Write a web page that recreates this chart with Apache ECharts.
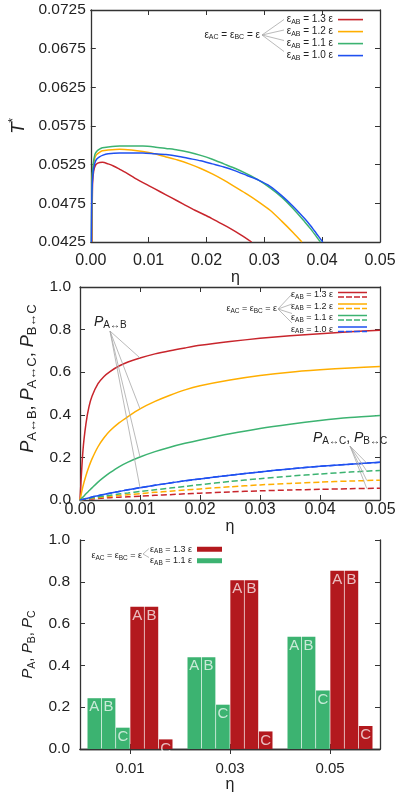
<!DOCTYPE html>
<html><head><meta charset="utf-8">
<script src="https://cdn.jsdelivr.net/npm/echarts@6/dist/echarts.min.js"></script>
<style>html,body{margin:0;padding:0;background:#fff}#c{width:400px;height:794px}</style>
</head><body><div id="c"></div>
<script>
// ---------------- DATA ----------------
// Panel 1: reduced critical temperature T* vs packing fraction eta
const T_TICKS = [0.0425, 0.0475, 0.0525, 0.0575, 0.0625, 0.0675, 0.0725];
const ETA_TICKS = [0, 0.01, 0.02, 0.03, 0.04, 0.05];
const T13_ETA = [0.0002, 0.0003, 0.0005, 0.0008, 0.0012, 0.002, 0.003, 0.004, 0.005, 0.006, 0.008, 0.010, 0.012, 0.014, 0.016, 0.018, 0.020, 0.022, 0.024, 0.026, 0.0278];
const T13_VAL = [0.0425, 0.0500, 0.0517, 0.0524, 0.0527, 0.0528, 0.0526, 0.0523, 0.0519, 0.0515, 0.0506, 0.0498, 0.0490, 0.0482, 0.0474, 0.0466, 0.0459, 0.0451, 0.0443, 0.0434, 0.0425];
const T12_ETA = [0.00015, 0.00025, 0.0004, 0.0007, 0.001, 0.0015, 0.002, 0.003, 0.005, 0.007, 0.009, 0.011, 0.013, 0.015, 0.017, 0.019, 0.021, 0.023, 0.025, 0.027, 0.029, 0.031, 0.033, 0.035, 0.0365];
const T12_VAL = [0.0425, 0.0505, 0.0522, 0.0534, 0.0538, 0.0541, 0.0543, 0.0544, 0.0545, 0.0544, 0.0542, 0.0539, 0.0535, 0.0531, 0.0526, 0.0520, 0.0513, 0.0505, 0.0496, 0.0487, 0.0477, 0.0466, 0.0452, 0.0437, 0.0425];
const T11_ETA = [0.0001, 0.0002, 0.0004, 0.0007, 0.001, 0.0015, 0.002, 0.003, 0.005, 0.007, 0.009, 0.011, 0.013, 0.015, 0.017, 0.019, 0.021, 0.023, 0.025, 0.027, 0.029, 0.031, 0.033, 0.035, 0.037, 0.038, 0.039, 0.0397];
const T11_VAL = [0.0425, 0.0500, 0.0525, 0.0538, 0.0542, 0.0545, 0.0547, 0.0548, 0.0549, 0.0549, 0.0549, 0.0548, 0.0546, 0.0544, 0.0541, 0.0537, 0.0532, 0.0526, 0.0520, 0.0513, 0.0505, 0.0495, 0.0483, 0.0468, 0.0451, 0.0442, 0.0432, 0.0425];
const T10_ETA = [0.0001, 0.0002, 0.0004, 0.0007, 0.001, 0.0015, 0.002, 0.003, 0.005, 0.007, 0.009, 0.011, 0.013, 0.015, 0.017, 0.019, 0.021, 0.023, 0.025, 0.027, 0.029, 0.031, 0.033, 0.035, 0.037, 0.038, 0.039, 0.0401];
const T10_VAL = [0.0425, 0.0490, 0.0515, 0.0527, 0.0532, 0.0535, 0.0537, 0.0539, 0.0540, 0.0540, 0.0540, 0.0539, 0.0538, 0.0536, 0.0533, 0.0530, 0.0526, 0.0522, 0.0517, 0.0511, 0.0505, 0.0497, 0.0485, 0.0471, 0.0455, 0.0446, 0.0436, 0.0425];

// Panel 2: bonding probabilities vs eta
const P_ETA = [0, 0.0005, 0.001, 0.0015, 0.002, 0.003, 0.004, 0.005, 0.0065, 0.008, 0.01, 0.0125, 0.015, 0.0175, 0.02, 0.025, 0.03, 0.035, 0.04, 0.045, 0.05];
const P_TICKS = [0, 0.2, 0.4, 0.6, 0.8, 1.0];
const PAB_13 = [0, 0.235, 0.36, 0.438, 0.487, 0.546, 0.580, 0.603, 0.629, 0.648, 0.667, 0.686, 0.701, 0.714, 0.726, 0.744, 0.759, 0.771, 0.781, 0.790, 0.797];
const PAB_12 = [0, 0.065, 0.115, 0.157, 0.193, 0.250, 0.292, 0.325, 0.362, 0.392, 0.428, 0.463, 0.492, 0.517, 0.536, 0.563, 0.584, 0.600, 0.611, 0.620, 0.627];
const PAB_11 = [0, 0.014, 0.029, 0.043, 0.057, 0.084, 0.107, 0.128, 0.156, 0.178, 0.202, 0.227, 0.248, 0.266, 0.282, 0.311, 0.336, 0.356, 0.373, 0.387, 0.397];
const PAB_10 = [0, 0.003, 0.007, 0.010, 0.014, 0.020, 0.026, 0.032, 0.040, 0.048, 0.058, 0.069, 0.080, 0.090, 0.099, 0.116, 0.132, 0.146, 0.158, 0.168, 0.177];
const PAC_13 = [0, 0.001, 0.003, 0.004, 0.005, 0.007, 0.009, 0.011, 0.013, 0.015, 0.018, 0.022, 0.025, 0.029, 0.032, 0.038, 0.043, 0.047, 0.050, 0.053, 0.055];
const PAC_12 = [0, 0.002, 0.004, 0.006, 0.008, 0.011, 0.014, 0.017, 0.021, 0.025, 0.030, 0.036, 0.041, 0.047, 0.052, 0.062, 0.071, 0.078, 0.084, 0.089, 0.093];
const PAC_11 = [0, 0.0025, 0.005, 0.0075, 0.010, 0.014, 0.018, 0.022, 0.028, 0.033, 0.040, 0.048, 0.056, 0.064, 0.072, 0.087, 0.100, 0.112, 0.122, 0.131, 0.139];
const PAC_10 = [0, 0.003, 0.007, 0.010, 0.014, 0.020, 0.026, 0.032, 0.040, 0.048, 0.058, 0.069, 0.080, 0.090, 0.099, 0.116, 0.132, 0.146, 0.158, 0.168, 0.177];

// Panel 3: site probabilities
const BAR_CATS = ['0.01', '0.03', '0.05'];
const B11_A = [0.243, 0.439, 0.537];
const B11_B = [0.243, 0.439, 0.537];
const B11_C = [0.102, 0.212, 0.280];
const B13_A = [0.681, 0.808, 0.853];
const B13_B = [0.681, 0.808, 0.853];
const B13_C = [0.046, 0.084, 0.110];

const EPS_LABELS = ['1.3', '1.2', '1.1', '1.0'];

// ---------------- STYLE ----------------
const FONT = '"Liberation Sans", Arial, Helvetica, sans-serif';
const C_RED = '#c8252c', C_ORA = '#ffae00', C_GRN = '#3cb371', C_BLU = '#1f50f0';
const C_BAR_RED = '#b3191e', C_BAR_GRN = '#3cb371';
const AX = '#333';
const GREY = '#a8a8a8';

const zip = (a, b) => a.map((v, i) => [v, b[i]]);

function valAxis(grid, pos, o) {
  const mirror = (pos === 'top' || pos === 'right');
  return Object.assign({
    type: 'value', gridIndex: grid, position: pos,
    axisLine: { show: true, onZero: false, lineStyle: { color: AX, width: 1.3 } },
    axisTick: { show: true, inside: true, length: 5, lineStyle: { color: AX, width: 1 } },
    axisLabel: { show: !mirror, color: '#222', fontFamily: FONT, fontSize: 15.5 },
    splitLine: { show: false }
  }, o);
}

const legendRich = (fs, sfs, lh, pad) => ({
  e: { fontSize: fs, fontFamily: FONT, color: '#222', lineHeight: lh },
  s: { fontSize: sfs, fontFamily: FONT, color: '#222', lineHeight: lh, padding: [pad, 0, 0, 0] }
});
const epsLabel = (lab) => '{e|ε}{s|AB}{e| = ' + lab + ' ε}';

const lineSeries = (name, x, y, g, color, dashed) => ({
  type: 'line', name, xAxisIndex: g * 2, yAxisIndex: g * 2,
  data: zip(x, y), showSymbol: false, symbol: 'none',
  smooth: 0.25, clip: true,
  lineStyle: { color, width: 1.5, type: dashed ? [6, 3] : 'solid' },
  itemStyle: { color }, animation: false, z: 3
});

const idx01 = P_ETA.indexOf(0.01);
const i45 = P_ETA.indexOf(0.045), i50 = P_ETA.indexOf(0.05);
const etaEnd = 0.0478;
const interpEnd = (arr) => arr[i45] + (arr[i50] - arr[i45]) * (etaEnd - 0.045) / 0.005;
const ORIG_AB = [0.005, 0.793];
const ORIG_AC = [0.045, 0.2535];
const leader = (from, to) => [{ coord: from }, { coord: to }];

const mlStyle = { symbol: ['none', 'none'], silent: true, animation: false,
  label: { show: false }, lineStyle: { color: GREY, width: 0.8, type: 'solid' }, emphasis: { disabled: true } };

const barLabel = (txt) => ({ show: true, position: 'insideTop', distance: 1.5, formatter: txt,
  color: 'rgba(255,255,255,0.72)', fontFamily: FONT, fontSize: 15 });
const barSeries = (name, data, color, txt) => ({
  type: 'bar', name, xAxisIndex: 4, yAxisIndex: 4, data,
  itemStyle: { color }, barCategoryGap: '15%', barGap: '5%',
  label: barLabel(txt), animation: false
});

const subRich = (pf, sf, pad) => ({
  p: { fontSize: pf, fontStyle: 'italic', fontFamily: FONT, color: '#222' },
  s: { fontSize: sf, fontFamily: FONT, color: '#222', padding: [pad, 0, 0, 0] },
  c: { fontSize: pf, fontFamily: FONT, color: '#222' }
});

const option = {
  backgroundColor: '#fff',
  animation: false,
  grid: [
    { left: 80, top: 10, width: 300, height: 232 },
    { left: 80, top: 287, width: 300, height: 213 },
    { left: 80, top: 540, width: 300, height: 209 }
  ],
  xAxis: [
    valAxis(0, 'bottom', { min: 0, max: 0.05, interval: 0.01,
      axisLabel: { color: '#222', fontFamily: FONT, fontSize: 16, margin: 11, formatter: v => v.toFixed(2) },
      name: 'η', nameLocation: 'middle', nameGap: 20, nameTextStyle: { fontSize: 16, fontFamily: FONT, color: '#222' } }),
    valAxis(0, 'top', { min: 0, max: 0.05, interval: 0.01 }),
    valAxis(1, 'bottom', { min: 0, max: 0.05, interval: 0.01,
      axisLabel: { color: '#222', fontFamily: FONT, fontSize: 16, margin: 2, formatter: v => v.toFixed(2) },
      name: 'η', nameLocation: 'middle', nameGap: 18, nameTextStyle: { fontSize: 16, fontFamily: FONT, color: '#222' } }),
    valAxis(1, 'top', { min: 0, max: 0.05, interval: 0.01 }),
    { type: 'category', gridIndex: 2, position: 'bottom', data: BAR_CATS,
      axisLine: { show: true, lineStyle: { color: AX, width: 1.3 } },
      axisTick: { show: true, inside: true, alignWithLabel: true, length: 5, lineStyle: { color: AX } },
      axisLabel: { color: '#222', fontFamily: FONT, fontSize: 15, margin: 12 },
      name: 'η', nameLocation: 'middle', nameGap: 22, nameTextStyle: { fontSize: 16, fontFamily: FONT, color: '#222' } },
    { type: 'category', gridIndex: 2, position: 'top', data: BAR_CATS,
      axisLine: { show: true, lineStyle: { color: AX, width: 1.3 } },
      axisTick: { show: true, inside: true, alignWithLabel: true, length: 5, lineStyle: { color: AX } },
      axisLabel: { show: false } }
  ],
  yAxis: [
    valAxis(0, 'left', { min: 0.0425, max: 0.0725,
      axisLabel: { color: '#222', fontFamily: FONT, fontSize: 15.5, margin: 5, customValues: T_TICKS, formatter: v => v.toFixed(4) },
      axisTick: { show: true, inside: true, length: 5, customValues: T_TICKS, lineStyle: { color: AX } },
      name: '{t|T}{sup|*}', nameLocation: 'middle', nameGap: 57,
      nameTextStyle: { rich: { t: { fontSize: 18, fontStyle: 'italic', fontFamily: FONT, color: '#222' },
        sup: { fontSize: 12, fontFamily: FONT, color: '#222', padding: [0, 0, 9, 0] } } } }),
    valAxis(0, 'right', { min: 0.0425, max: 0.0725,
      axisTick: { show: true, inside: true, length: 5, customValues: T_TICKS, lineStyle: { color: AX } } }),
    valAxis(1, 'left', { min: 0, max: 1, interval: 0.2,
      axisLabel: { color: '#222', fontFamily: FONT, fontSize: 15.5, margin: 9, formatter: v => v.toFixed(1) },
      name: '{p|P}{s|A↔B}{c|, }{p|P}{s|A↔C}{c|, }{p|P}{s|B↔C}', nameLocation: 'middle', nameGap: 38,
      nameTextStyle: { padding: [0, 0, 0, 30], rich: subRich(18, 13, 9) } }),
    valAxis(1, 'right', { min: 0, max: 1, interval: 0.2 }),
    valAxis(2, 'left', { min: 0, max: 1, interval: 0.2,
      axisLabel: { color: '#222', fontFamily: FONT, fontSize: 15.5, margin: 10, formatter: v => v.toFixed(1) },
      name: '{p|P}{s|A}{c|, }{p|P}{s|B}{c|, }{p|P}{s|C}', nameLocation: 'middle', nameGap: 40,
      nameTextStyle: { rich: subRich(15, 10.5, 8) } }),
    valAxis(2, 'right', { min: 0, max: 1, interval: 0.2 })
  ],
  legend: [
    { orient: 'vertical', right: 37, top: 13.6, padding: 0, itemGap: 0, itemWidth: 25, itemHeight: 10,
      align: 'right', icon: 'path://M0,0h25v1.6h-25z', itemStyle: { borderWidth: 0 },
      data: ['T13', 'T12', 'T11', 'T10'], selectedMode: false,
      formatter: n => epsLabel(EPS_LABELS[['T13', 'T12', 'T11', 'T10'].indexOf(n)]),
      textStyle: { rich: legendRich(10, 7, 10.7, 5) } },
    { orient: 'vertical', right: 33, top: 289, padding: 0, itemGap: 0, itemWidth: 29, itemHeight: 9,
      align: 'right', icon: 'path://M0,0h29v1.5h-29z M0,4.5h6v1.5h-6z M8,4.5h6v1.5h-6z M16,4.5h6v1.5h-6z M24,4.5h5v1.5h-5z',
      itemStyle: { borderWidth: 0 },
      data: ['P13', 'P12', 'P11', 'P10'], selectedMode: false,
      formatter: n => epsLabel(EPS_LABELS[['P13', 'P12', 'P11', 'P10'].indexOf(n)]),
      textStyle: { rich: legendRich(9, 6.5, 9.7, 4.5) } },
    { orient: 'vertical', right: 178, top: 543.5, padding: 0, itemGap: 0, itemWidth: 25, itemHeight: 9,
      align: 'right', icon: 'path://M0,0h25v5h-25z', itemStyle: { borderWidth: 0 },
      data: ['B13', 'B11'], selectedMode: false,
      formatter: n => epsLabel(n === 'B13' ? '1.3' : '1.1'),
      textStyle: { rich: legendRich(9, 6.5, 9, 4.5) } }
  ],
  series: [
    lineSeries('T13', T13_ETA, T13_VAL, 0, C_RED),
    lineSeries('T12', T12_ETA, T12_VAL, 0, C_ORA),
    lineSeries('T11', T11_ETA, T11_VAL, 0, C_GRN),
    lineSeries('T10', T10_ETA, T10_VAL, 0, C_BLU),
    Object.assign(lineSeries('P13', P_ETA, PAB_13, 1, C_RED), {
      markLine: Object.assign({ data: [
        leader(ORIG_AB, [0.01, PAB_13[idx01]]), leader(ORIG_AB, [0.01, PAB_12[idx01]]),
        leader(ORIG_AB, [0.01, PAB_11[idx01]]), leader(ORIG_AB, [0.01, PAB_10[idx01]]),
        leader(ORIG_AC, [etaEnd, interpEnd(PAC_10)]), leader(ORIG_AC, [etaEnd, interpEnd(PAC_11)]),
        leader(ORIG_AC, [etaEnd, interpEnd(PAC_12)]), leader(ORIG_AC, [etaEnd, interpEnd(PAC_13)])
      ] }, mlStyle) }),
    lineSeries('P12', P_ETA, PAB_12, 1, C_ORA),
    lineSeries('P11', P_ETA, PAB_11, 1, C_GRN),
    lineSeries('P10', P_ETA, PAB_10, 1, C_BLU),
    lineSeries('P13d', P_ETA, PAC_13, 1, C_RED, true),
    lineSeries('P12d', P_ETA, PAC_12, 1, C_ORA, true),
    lineSeries('P11d', P_ETA, PAC_11, 1, C_GRN, true),
    lineSeries('P10d', P_ETA, PAC_10, 1, C_BLU, true),
    barSeries('B11', B11_A, C_BAR_GRN, 'A'),
    barSeries('B11', B11_B, C_BAR_GRN, 'B'),
    barSeries('B11', B11_C, C_BAR_GRN, 'C'),
    barSeries('B13', B13_A, C_BAR_RED, 'A'),
    barSeries('B13', B13_B, C_BAR_RED, 'B'),
    barSeries('B13', B13_C, C_BAR_RED, 'C')
  ],
  graphic: []
};

// legend group captions and fan connectors
const capRich = (fs, sfs, pad) => ({
  e: { fontSize: fs, fontFamily: FONT, fill: '#222' },
  s: { fontSize: sfs, fontFamily: FONT, fill: '#222', padding: [pad, 0, 0, 0] }
});
const caption = (x, y, fs, sfs, pad) => ({
  type: 'text', x, y, silent: true,
  style: { text: '{e|ε}{s|AC}{e| = ε}{s|BC}{e| = ε}', rich: capRich(fs, sfs, pad),
    align: 'right', verticalAlign: 'middle' }
});
const fan = (x0, y0, x1, ys) => ys.map(y => ({ type: 'line', silent: true,
  shape: { x1: x0, y1: y0, x2: x1, y2: y }, style: { stroke: GREY, lineWidth: 0.8 } }));

option.graphic.push(caption(260, 35, 10, 7, 5));
fan(262, 35, 284, [19.5, 30, 40.5, 51.5]).forEach(g => option.graphic.push(g));
option.graphic.push(caption(277, 309, 9, 6.5, 4.5));
fan(278, 309, 292, [294, 304, 313.5, 323]).forEach(g => option.graphic.push(g));
option.graphic.push(caption(142, 556, 9, 6.5, 4.5));
fan(143, 554, 149, [548.5, 557.5]).forEach(g => option.graphic.push(g));
// curve-group annotations
const annRich = {
  p: { fontSize: 14, fontStyle: 'italic', fontFamily: FONT, fill: '#222' },
  s: { fontSize: 10, fontFamily: FONT, fill: '#222', padding: [6, 0, 0, 0] },
  c: { fontSize: 14, fontFamily: FONT, fill: '#222' }
};
option.graphic.push({ type: 'text', x: 94, y: 322, silent: true,
  style: { text: '{p|P}{s|A↔B}', rich: annRich, align: 'left', verticalAlign: 'middle' } });
option.graphic.push({ type: 'text', x: 313, y: 438, silent: true,
  style: { text: '{p|P}{s|A↔C}{c|, }{p|P}{s|B↔C}', rich: annRich, align: 'left', verticalAlign: 'middle' } });

const chart = echarts.init(document.getElementById('c'), null, { renderer: 'canvas' });
chart.setOption(option);
</script></body></html>
